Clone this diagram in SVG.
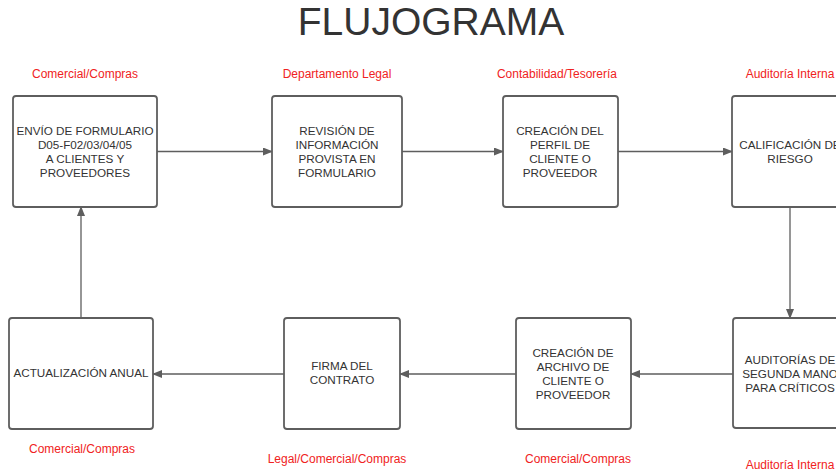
<svg xmlns="http://www.w3.org/2000/svg" width="836" height="470" viewBox="0 0 836 470">
<style>
.box{fill:#fff;stroke:#5e5e5e;stroke-width:1.8}
.t{font-family:"Liberation Sans",Arial,sans-serif;font-size:11.7px;fill:#333;text-anchor:middle}
.lab{font-family:"Liberation Sans",Arial,sans-serif;font-size:12px;fill:#f02222;text-anchor:middle}
.c{fill:none;stroke:#5e5e5e;stroke-width:1.3}
</style>
<defs>
<marker id="ah" markerWidth="10" markerHeight="8" refX="9" refY="4" orient="auto" markerUnits="userSpaceOnUse">
<path d="M0,0 L10,4 L0,8 Z" fill="#5e5e5e"/>
</marker>
</defs>
<rect width="836" height="470" fill="#fff"/>
<text x="431" y="35" font-family="'Liberation Sans',Arial,sans-serif" font-size="39" fill="#333" text-anchor="middle">FLUJOGRAMA</text>

<g id="labels">
<text class="lab" x="85" y="78">Comercial/Compras</text>
<text class="lab" x="337" y="78">Departamento Legal</text>
<text class="lab" x="557" y="78">Contabilidad/Tesorería</text>
<text class="lab" x="790" y="78">Auditoría Interna</text>
<text class="lab" x="82" y="453">Comercial/Compras</text>
<text class="lab" x="337" y="463">Legal/Comercial/Compras</text>
<text class="lab" x="578" y="463">Comercial/Compras</text>
<text class="lab" x="790" y="469">Auditoría Interna</text>
</g>

<g id="connectors">
<path class="c" d="M157,151.5 H272" marker-end="url(#ah)"/>
<path class="c" d="M402,151.5 H503" marker-end="url(#ah)"/>
<path class="c" d="M618,151.5 H732" marker-end="url(#ah)"/>
<path class="c" d="M790,207 V318" marker-end="url(#ah)"/>
<path class="c" d="M733,374 H631" marker-end="url(#ah)"/>
<path class="c" d="M516,374 H400" marker-end="url(#ah)"/>
<path class="c" d="M284,374 H153" marker-end="url(#ah)"/>
<path class="c" d="M81,318 V207" marker-end="url(#ah)"/>
</g>

<g id="n1">
<rect class="box" x="13" y="96" width="144" height="111" rx="3"/>
<text class="t" x="85" y="135">ENVÍO DE FORMULARIO</text>
<text class="t" x="85" y="149">D05-F02/03/04/05</text>
<text class="t" x="85" y="163">A CLIENTES Y</text>
<text class="t" x="85" y="177">PROVEEDORES</text>
</g>
<g id="n2">
<rect class="box" x="272" y="96" width="130" height="111" rx="3"/>
<text class="t" x="337" y="135">REVISIÓN DE</text>
<text class="t" x="337" y="149">INFORMACIÓN</text>
<text class="t" x="337" y="163">PROVISTA EN</text>
<text class="t" x="337" y="177">FORMULARIO</text>
</g>
<g id="n3">
<rect class="box" x="503" y="96" width="115" height="111" rx="3"/>
<text class="t" x="560" y="135">CREACIÓN DEL</text>
<text class="t" x="560" y="149">PERFIL DE</text>
<text class="t" x="560" y="163">CLIENTE O</text>
<text class="t" x="560" y="177">PROVEEDOR</text>
</g>
<g id="n4">
<rect class="box" x="732" y="96" width="116" height="111" rx="3"/>
<text class="t" x="790" y="149">CALIFICACIÓN DE</text>
<text class="t" x="790" y="163">RIESGO</text>
</g>
<g id="n5">
<rect class="box" x="733" y="318" width="116" height="110" rx="3"/>
<text class="t" x="790" y="364">AUDITORÍAS DE</text>
<text class="t" x="790" y="378">SEGUNDA MANO</text>
<text class="t" x="790" y="392">PARA CRÍTICOS</text>
</g>
<g id="n6">
<rect class="box" x="516" y="318" width="115" height="111" rx="3"/>
<text class="t" x="573" y="357">CREACIÓN DE</text>
<text class="t" x="573" y="371">ARCHIVO DE</text>
<text class="t" x="573" y="385">CLIENTE O</text>
<text class="t" x="573" y="399">PROVEEDOR</text>
</g>
<g id="n7">
<rect class="box" x="284" y="318" width="116" height="111" rx="3"/>
<text class="t" x="342" y="370">FIRMA DEL</text>
<text class="t" x="342" y="384">CONTRATO</text>
</g>
<g id="n8">
<rect class="box" x="9" y="318" width="144" height="111" rx="3"/>
<text class="t" x="81" y="377">ACTUALIZACIÓN ANUAL</text>
</g>
</svg>
